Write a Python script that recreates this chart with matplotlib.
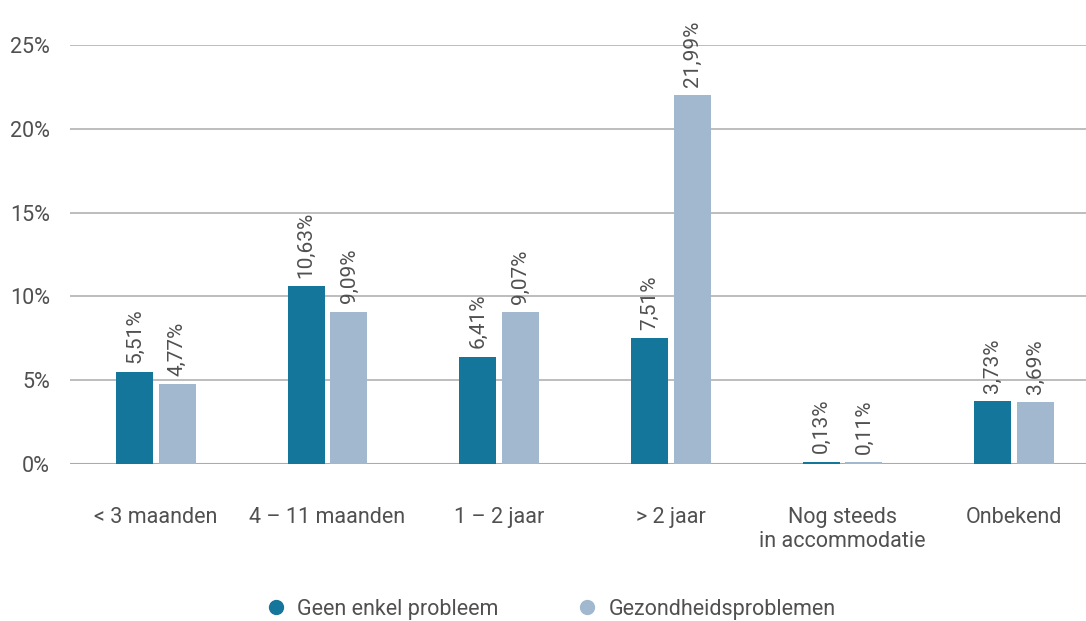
import matplotlib.pyplot as plt
import numpy as np

categories = ["< 3 maanden", "4 – 11 maanden", "1 – 2 jaar", "> 2 jaar",
              "Nog steeds\nin accommodatie", "Onbekend"]
geen_probleem = [5.51, 10.63, 6.41, 7.51, 0.13, 3.73]
gezondheid = [4.77, 9.09, 9.07, 21.99, 0.11, 3.69]
series_names = ["Geen enkel probleem", "Gezondheidsproblemen"]
y_ticks = [0, 5, 10, 15, 20, 25]

DARK = "#14769a"
LIGHT = "#a2b8ce"
TEXT = "#505050"
GRID = "#ababab"

plt.rcParams["font.family"] = ["Roboto", "DejaVu Sans"]

fig = plt.figure(figsize=(10.86, 6.21), dpi=100)
# axes run slightly past the right edge so the last group keeps its spacing
ax = fig.add_axes([70 / 1086, 1 - 464 / 621, 1030 / 1086, 419 / 621])

x = np.arange(len(categories))
w = 0.216
off = 0.125
b1 = ax.bar(x - off, geen_probleem, w, color=DARK, zorder=3)
b2 = ax.bar(x + off, gezondheid, w, color=LIGHT, zorder=3)

for bars, vals in ((b1, geen_probleem), (b2, gezondheid)):
    for rect, v in zip(bars, vals):
        ax.annotate(f"{v:.2f}%".replace(".", ","),
                    (rect.get_x() + rect.get_width() / 2, v),
                    xytext=(0, 6), textcoords="offset points",
                    rotation=90, ha="center", va="bottom",
                    fontsize=15, color=TEXT, zorder=4)

ax.set_xlim(-0.5, len(categories) - 0.5)
ax.set_ylim(0, 25)
ax.set_yticks(y_ticks)
ax.set_yticklabels([f"{t}%" for t in y_ticks])
ax.set_xticks(x)
ax.set_xticklabels(categories, linespacing=1.2)
ax.yaxis.grid(True, color=GRID, linewidth=1.1, zorder=0)
ax.tick_params(axis="y", length=0, pad=14.5, labelsize=15.5, labelcolor=TEXT)
ax.tick_params(axis="x", length=0, pad=31, labelsize=15.5, labelcolor=TEXT)
for s in ax.spines.values():
    s.set_visible(False)
ax.axhline(0, color=GRID, linewidth=1.5, zorder=2)

handles = [plt.Line2D([], [], marker="o", linestyle="", markersize=10, color=c)
           for c in (DARK, LIGHT)]
fig.legend(handles, series_names, loc="center", bbox_to_anchor=(545 / 1086, 1 - 609 / 621),
           ncol=2, frameon=False, fontsize=15.5, labelcolor=TEXT,
           handletextpad=0.0, columnspacing=3.1)

fig.savefig("out.png", dpi=100)
